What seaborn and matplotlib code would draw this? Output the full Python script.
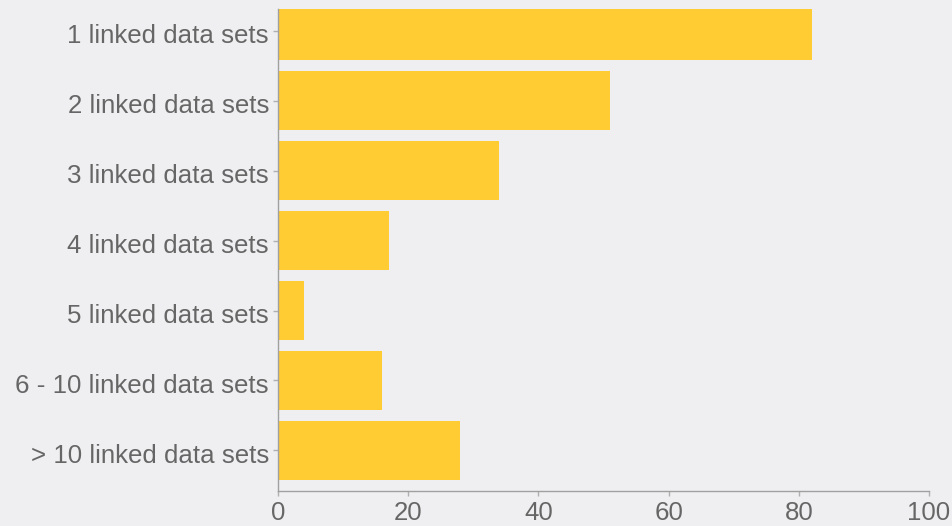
import matplotlib
matplotlib.use("Agg")
import matplotlib.pyplot as plt
import matplotlib.transforms as mtransforms
import seaborn as sns
import pandas as pd

categories = ["1 linked data sets", "2 linked data sets", "3 linked data sets",
              "4 linked data sets", "5 linked data sets", "6 - 10 linked data sets",
              "> 10 linked data sets"]
values = [82, 51, 34, 17, 4, 16, 28]
xticks = [0, 20, 40, 60, 80, 100]

bg = "#EFEFF1"
sns.set_theme(style="white")
plt.rcParams['font.family'] = ['Liberation Sans', 'DejaVu Sans']

df = pd.DataFrame({"category": categories, "value": values})

fig = plt.figure(figsize=(9.52, 5.26), dpi=100, facecolor=bg)
ax = fig.add_axes([278/952, 1 - 491/526, (929 - 278)/952, (491 - 9)/526])
ax.set_facecolor(bg)

sns.barplot(data=df, x="value", y="category", color="#FFCC33", saturation=1,
            width=0.845, ax=ax, orient="h")
for p in ax.patches:
    p.set_edgecolor("none")

ax.set_xlim(0, 100)
ax.set_ylim(6.58, -0.31)
ax.set_xticks(xticks)
ax.set_xticklabels([str(t) for t in xticks])
ax.set_xlabel("")
ax.set_ylabel("")

for s in ["top", "right"]:
    ax.spines[s].set_visible(False)
for s in ["left", "bottom"]:
    ax.spines[s].set_color("#A0A0A0")
    ax.spines[s].set_linewidth(1.0)

ax.tick_params(axis="both", colors="#B0B0B0", labelcolor="#666666",
               labelsize=18.6, length=3.5, width=1.0, left=True, bottom=True)
ax.tick_params(axis="y", pad=3)
ax.tick_params(axis="x", pad=4)
offset = mtransforms.ScaledTranslation(0, -3/100, fig.dpi_scale_trans)
for lab in ax.get_yticklabels():
    lab.set_transform(lab.get_transform() + offset)
for lab in ax.get_xticklabels() + ax.get_yticklabels():
    lab.set_clip_on(False)

fig.savefig("out.png", dpi=100, facecolor=bg)
